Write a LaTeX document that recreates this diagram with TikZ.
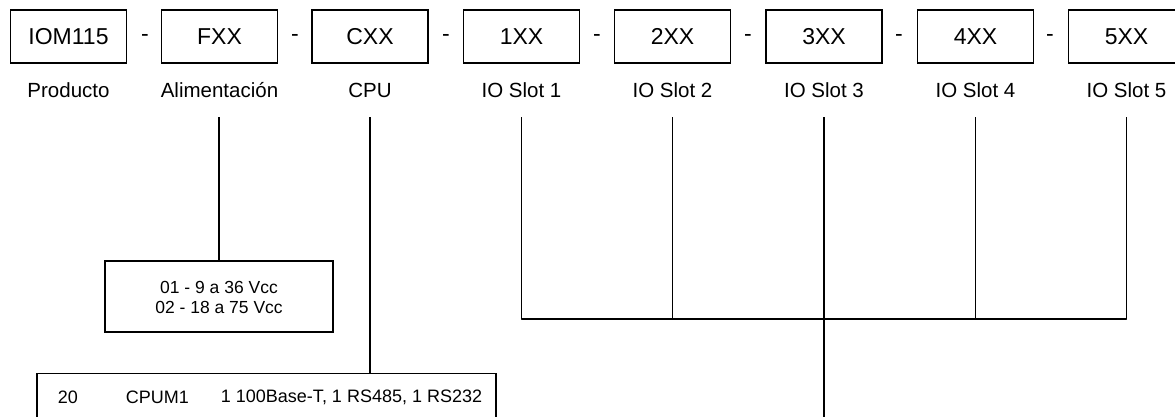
\documentclass[tikz,border=0pt]{standalone}
\usepackage{fontspec}
\setmainfont{Liberation Sans}
\begin{document}
\begin{tikzpicture}[x=1pt,y=-1pt,
  line width=1.9pt,
  codebox/.style={draw,minimum width=116pt,minimum height=53pt,inner sep=0pt,font=\fontsize{23}{26}\selectfont},
  caption/.style={inner sep=0pt,font=\fontsize{20.5}{24}\selectfont},
  dashlbl/.style={inner sep=0pt,font=\fontsize{23}{26}\selectfont},
  small/.style={inner sep=0pt,font=\fontsize{17.5}{20}\selectfont},
  cpu/.style={inner sep=0pt,anchor=west,font=\fontsize{18}{20}\selectfont}]
\useasboundingbox (0,0) rectangle (1175,416);
\fill[white] (0,0) rectangle (1175,416);
% top boxes
\node[codebox] (b0) at (68.5,36.5) {IOM115};
\node[codebox] (b1) at (219.5,36.5) {FXX};
\node[codebox] (b2) at (370,36.5) {CXX};
\node[codebox] (b3) at (521.5,36.5) {1XX};
\node[codebox] (b4) at (672.5,36.5) {2XX};
\node[codebox] (b5) at (824,36.5) {3XX};
\node[codebox] (b6) at (975.5,36.5) {4XX};
\node[codebox] (b7) at (1126.5,36.5) {5XX};
% dashes
\node[dashlbl] (d1) at (145,38) {-};
\node[dashlbl] (d2) at (295,38) {-};
\node[dashlbl] (d3) at (446,38) {-};
\node[dashlbl] (d4) at (597,38) {-};
\node[dashlbl] (d5) at (748,38) {-};
\node[dashlbl] (d6) at (899,38) {-};
\node[dashlbl] (d7) at (1050,38) {-};
% captions
\node[caption] (c0) at (68.5,90) {Producto};
\node[caption] (c1) at (219.5,90) {Alimentación};
\node[caption] (c2) at (370,90) {CPU};
\node[caption] (c3) at (521.5,90) {IO Slot 1};
\node[caption] (c4) at (672.5,90) {IO Slot 2};
\node[caption] (c5) at (824,90) {IO Slot 3};
\node[caption] (c6) at (975.5,90) {IO Slot 4};
\node[caption] (c7) at (1126.5,90) {IO Slot 5};
% power box
\node[draw,minimum width=228pt,minimum height=71pt,inner sep=0pt] (pw) at (219,296.5) {};
\node[small] (pw1) at (219,287) {01 - 9 a 36 Vcc};
\node[small] (pw2) at (219,307) {02 - 18 a 75 Vcc};
% cpu box
\draw (37,440) -- (37,373.5) coordinate (cpuTL) -- (496,373.5) coordinate (cpuTR) -- (496,440);
\coordinate (cpuTop) at (370,373.5);
\node[cpu] (cpuA) at (57,397) {20};
\node[cpu] (cpuB) at (125,397) {CPUM1};
\node[cpu] (cpuC) at (220,397) {1 100Base-T, 1 RS485, 1 RS232};
% connectors
\coordinate (f1) at (219,117);
\draw (f1) -- (pw.north);
\coordinate (f2) at (370,117);
\draw (f2) -- (cpuTop);
\coordinate (s1) at (521.5,117);
\coordinate (s2) at (672.5,117);
\coordinate (s3) at (824,117);
\coordinate (s4) at (975.5,117);
\coordinate (s5) at (1126.5,117);
\coordinate (h1) at (521.5,319);
\coordinate (h2) at (672.5,319);
\coordinate (h3) at (824,319);
\coordinate (h4) at (975.5,319);
\coordinate (h5) at (1126.5,319);
\coordinate (bot) at (824,440);
\draw[line join=round] (s1) -- (h1) -- (h5) -- (s5);
\draw (s2) -- (h2);
\draw (s3) -- (bot);
\draw (s4) -- (h4);
\end{tikzpicture}
\end{document}
